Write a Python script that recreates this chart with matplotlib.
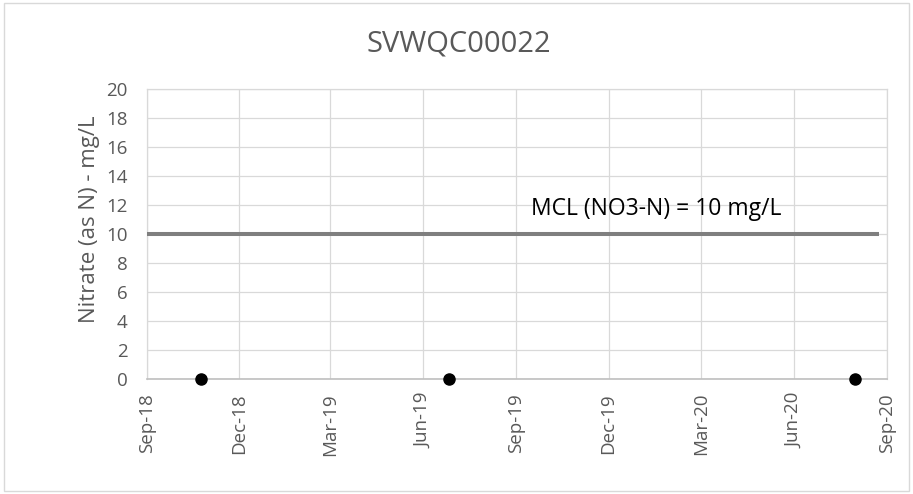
import matplotlib
matplotlib.use("Agg")
from matplotlib import pyplot as plt
import matplotlib.dates as mdates
from datetime import datetime

# sample data
sample_dates = [datetime(2018, 10, 24), datetime(2019, 6, 26), datetime(2020, 7, 31)]
nitrate = [0, 0, 0]

mcl_dates = [datetime(2018, 9, 1), datetime(2020, 8, 24)]
mcl_values = [10, 10]

tick_dates = [datetime(2018, 9, 1), datetime(2018, 12, 1), datetime(2019, 3, 1),
              datetime(2019, 6, 1), datetime(2019, 9, 1), datetime(2019, 12, 1),
              datetime(2020, 3, 1), datetime(2020, 6, 1), datetime(2020, 9, 1)]
y_ticks = list(range(0, 21, 2))

plt.rcParams['font.family'] = ['Open Sans', 'DejaVu Sans']
txt = '#595959'
grid = '#d9d9d9'

fig = plt.figure(figsize=(9.13, 4.94), dpi=100)
ax = fig.add_axes([0.161, 0.2328, 0.8105, 0.587])

ax.plot(mcl_dates, mcl_values, color='#7f7f7f', lw=2.9, solid_capstyle='butt', zorder=3)
ax.plot(sample_dates, nitrate, 'o', color='black', ms=8, clip_on=False, zorder=4)
ax.text(datetime(2019, 9, 15), 11.7, 'MCL (NO3-N) = 10 mg/L', fontsize=16.5, color='black', va='center')

ax.set_xlim(tick_dates[0], tick_dates[-1])
ax.set_ylim(0, 20)
ax.set_xticks(tick_dates)
ax.xaxis.set_major_formatter(mdates.DateFormatter('%b-%y'))
ax.set_yticks(y_ticks)
ax.tick_params(axis='x', rotation=90, length=0, pad=10, labelsize=13.5, colors=txt)
ax.tick_params(axis='y', length=0, pad=14, labelsize=13.5, colors=txt)
ax.grid(True, color=grid, lw=0.9)
ax.set_axisbelow(True)
for s in ax.spines.values():
    s.set_color(grid)
    s.set_linewidth(0.9)
ax.spines['bottom'].set_color('#bfbfbf')
ax.spines['bottom'].set_linewidth(1.2)

ax.set_ylabel('Nitrate (as N) - mg/L', fontsize=16, color=txt)
ax.yaxis.set_label_coords((100 - 147) / 740, 0.55)
fig.text(0.502, 0.91, 'SVWQC00022', ha='center', va='center', fontsize=21, color=txt)

# outer chart border
fig.add_artist(plt.Rectangle((0.004, 0.006), 0.992, 0.988, transform=fig.transFigure,
                             fill=False, edgecolor=grid, lw=1))

fig.savefig('out.png', dpi=100)
